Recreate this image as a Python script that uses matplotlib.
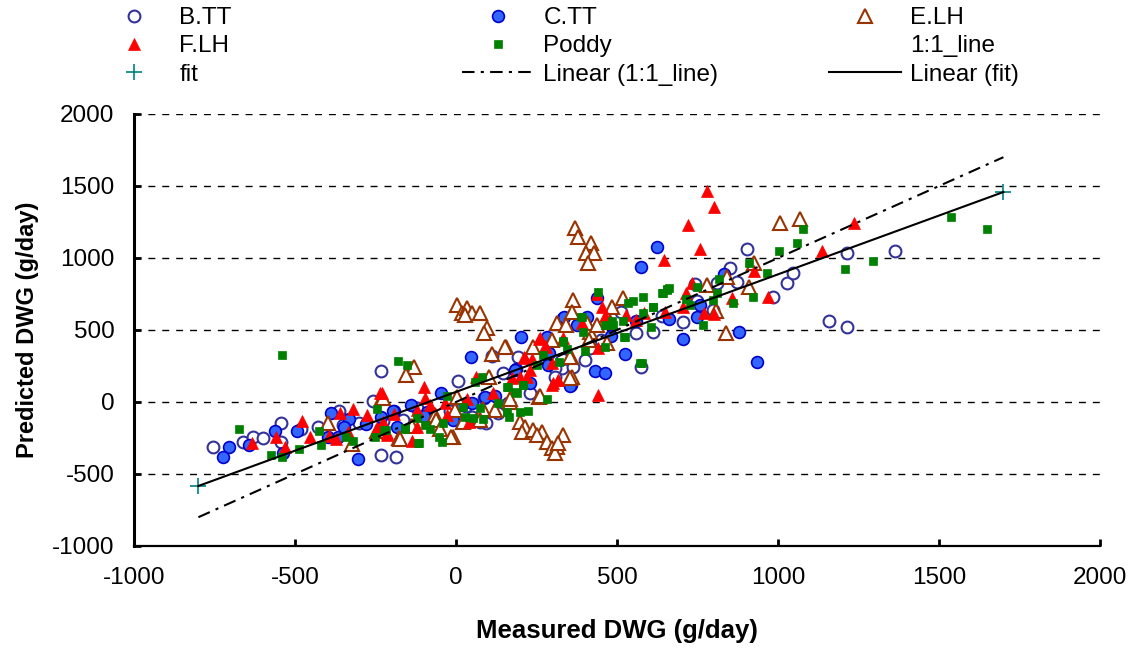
import matplotlib
matplotlib.use('Agg')
import matplotlib.pyplot as plt

plt.rcParams['font.family'] = ['Liberation Sans', 'DejaVu Sans']
plt.rcParams['axes.unicode_minus'] = False

# Measured vs predicted DWG (g/day)
btt_x = [-756, -662, -631, -545, -545, -428, -362, -350, -300, -259, -234, -234, -186, -226, -158,
         -164, 5, 111, 194, 147, 401, 575, 613, 511, 706, 742, 748, 797, 810, 851, 872, 903, 985,
         1027, 1046, 1157, 1213, 1213, 1363, 87, 49, 75, 93, 131, 328, 307, 364, 307, 416,
         -480, -600, -80, -20, 30, 160, 230, 330, 450, 560, 640, -120]
btt_y = [-315, -275, -241, -144, -275, -171, -60, -160, -144, 9, 217, -368, -380, -130, -144,
         -125, 146, 319, 315, 204, 292, 245, 488, 627, 558, 819, 703, 639, 824, 933, 836, 1060, 727,
         824, 894, 562, 519, 1032, 1049, 25, -102, -137, -148, -79, 234, 234, 245, 176, 372,
         -190, -250, -120, -60, -30, -10, 60, 300, 430, 480, 600, -40]

ctt_x = [-706, -723, -642, -562, -538, -495, -389, -396, -365, -332, -348, -303, -234, -192, -141,
         -182, -48, 46, 201, 282, 333, 406, 375, 437, 525, 432, 463, 356, 623, 575, 660, 832, 748,
         704, 879, 934, 758, -91, -195, -10, 49, 90, 186, 290, 287, 354, 183, 336,
         -280, -100, 20, 120, 230, 480, 560]
ctt_y = [-315, -380, -299, -201, -352, -201, -79, -245, -245, -120, -176, -398, -102, -60, -21,
         -176, 65, 315, 454, 454, 581, 588, 535, 720, 333, 218, 204, 118, 1079, 935, 574, 889, 592,
         435, 488, 280, 674, -67, -60, -125, -9, 37, 227, 338, 257, 111, 222, 592,
         -150, -100, -20, 40, 130, 460, 560]

elh_x = [-396, -324, -231, -244, -176, -130, -156, -10, -68, 370, 380, 419, 404, 428, 411, 2, 18,
         35, 49, 75, 28, 97, 87, 111, 155, 240, 297, 313, 341, 364, 359, 416, 483, 520, 356, 359,
         259, 199, 214, 204, 240, 266, 251, 282, 297, 313, 307, 333, 318, 1006, 1068, 925, 911,
         843, 781, 807, 839, 470, 4, 103, 121, 83, 168, -228, -65, -138, -62, -3, 75, 23, -14,
         -50, -174, 152, 354, 354, 261, 168, 406, 437, 414, 478, -226]
elh_y = [-148, -292, 30, -204, -252, 245, 187, -241, -102, 1206, 1148, 1106, 1032, 1032, 963, 674,
         616, 650, 616, 616, 604, 512, 477, 330, 384, 384, 431, 546, 535, 708, 627, 488, 662, 720,
         315, 176, 37, -137, -171, -206, -194, -206, -229, -276, -322, -310, -356, -229, -287,
         1245, 1268, 967, 796, 866, 812, 634, 481, 407, 37, 176, -56, -51, 2, 25, -90, -167, -125,
         -56, -125, -137, -245, -190, -259, 384, 315, 164, 42, 19, 546, 535, 431, 558, -198]

flh_x = [-635, -560, -531, -479, -453, -394, -360, -373, -319, -336, -275, -236, -193, -244, -215,
         -99, -138, -34, 211, 261, 280, 645, 390, 437, 452, 528, 440, 302, 318, 442, 649, 585, 781,
         801, 720, 758, 1236, 1136, 925, 968, 856, 732, 714, 706, 801, 770, 559, 35, 62, 116, 173,
         219, 230, -231, -96, -122, -81, -29, 41, -226, -215, 259, 276, 214, 235, 333, 297, 316,
         297, 199, 463, -122]
flh_y = [-282, -241, -310, -130, -245, -236, -74, -256, -51, -206, -90, 65, -83, -183, -229,
         106, -268, -9, 315, 442, 384, 986, 546, 750, 662, 604, 372, 130, 153, 49, 627, 616, 1468,
         1356, 1229, 1063, 1245, 1051, 912, 731, 720, 829, 759, 662, 611, 620, 569, 19, 176, 60,
         164, 176, 222, 60, 25, -56, -21, -90, -137, -137, -217, 435, 389, 303, 296, 442, 268, 153,
         118, 176, 597, -171]

poddy_x = [-540, -675, -575, -541, -488, -424, -420, -321, -342, -246, -224, -252, -179, -153,
           -158, -117, -29, 331, 388, 393, 442, 483, 535, 549, 580, 518, 282, 577, 611, 605, 644,
           656, 1536, 1648, 1294, 1077, 1058, 1003, 1208, 910, 965, 921, 859, 817, 748, 810, 714,
           727, 799, 766, 654, 660, 639, 611, 522, 463, 463, 582, 59, 80, 131, 75, 163, 188, 157,
           165, 199, 225, 209, -217, -158, -120, -96, -81, -39, 23, 28, 52, 85, -52, -44, -114,
           333, 271, 321, 344, 157, 207, 183, 251, 390, 401, 489, 525, 571]
poddy_y = [325, -190, -368, -384, -329, -201, -299, -269, -245, -51, -194, -245, 287, 257,
           -190, -287, 42, 426, 588, 488, 766, 565, 685, 703, 727, 565, 21, 269, 657, 519, 755,
           783, 1282, 1199, 979, 1199, 1102, 1046, 921, 963, 894, 727, 685, 852, 801, 755, 713,
           674, 708, 535, 778, 790, 755, 662, 454, 535, 384, 616, 141, 176, -5, -44, 106, 65, -67,
           -102, -72, -63, 118, -194, -183, -113, -160, -190, -148, -37, -102, -113, -120, -245,
           -276, -287, 419, 326, 280, 366, 102, 118, 72, 257, 592, 356, 535, 454, 269]

# end points of the two reference series
line_x = [-800, 1700]
line_y = [-800, 1700]
fit_x = [-800, 1700]
fit_y = [-583, 1458]

x_ticks = [-1000, -500, 0, 500, 1000, 1500, 2000]
y_ticks = [-1000, -500, 0, 500, 1000, 1500, 2000]


def main():
    fig = plt.figure(figsize=(11.36, 6.48), dpi=100)
    ax = fig.add_axes([134 / 1136, 1 - 546 / 648, 966 / 1136, 432 / 648])

    # horizontal dashed grid
    for yv in y_ticks[1:]:
        ax.axhline(yv, color='black', lw=1.0, dashes=(5, 5), zorder=0)

    h_btt, = ax.plot(btt_x, btt_y, ls='none', marker='o', ms=8.5, mfc='white',
                     mec='#333399', mew=1.5, label='B.TT')
    h_ctt, = ax.plot(ctt_x, ctt_y, ls='none', marker='o', ms=8.5, mfc='#3366FF',
                     mec='#0000CC', mew=1.2, label='C.TT')
    h_elh, = ax.plot(elh_x, elh_y, ls='none', marker='^', ms=10.5, mfc='white',
                     mec='#993300', mew=1.5, label='E.LH')
    h_flh, = ax.plot(flh_x, flh_y, ls='none', marker='^', ms=8, mfc='#FF0000',
                     mec='#FF0000', mew=0.5, label='F.LH')
    h_pod, = ax.plot(poddy_x, poddy_y, ls='none', marker='s', ms=6, mfc='#008000',
                     mec='#008000', mew=0.5, label='Poddy')

    h_11, = ax.plot(line_x, line_y, ls='none', marker='none', label='1:1_line')
    h_fit, = ax.plot(fit_x, fit_y, ls='none', marker='+', ms=11, mew=1.2, color='#008080',
                     label='fit')
    h_lin11, = ax.plot(line_x, line_y, color='black', lw=1.5, dashes=(6, 3, 1.5, 3),
                       label='Linear (1:1_line)')
    h_linfit, = ax.plot(fit_x, fit_y, color='black', lw=1.5, label='Linear (fit)')

    ax.set_xlim(-1000, 2000)
    ax.set_ylim(-1000, 2000)
    ax.set_xticks(x_ticks)
    ax.set_yticks(y_ticks)
    ax.tick_params(direction='in', length=5, width=2, labelsize=17.5)
    ax.tick_params(axis='x', pad=15)
    ax.tick_params(axis='y', pad=14)

    for side in ['top', 'right']:
        ax.spines[side].set_visible(False)
    ax.spines['left'].set_linewidth(2.2)
    ax.spines['bottom'].set_linewidth(1.6)

    ax.set_xlabel('Measured DWG (g/day)', fontsize=18.5, fontweight='bold')
    ax.set_ylabel('Predicted DWG (g/day)', fontsize=17, fontweight='bold')
    ax.xaxis.set_label_coords(0.5, -0.17)
    ax.yaxis.set_label_coords(-0.098, 0.5)

    # legend as three columns placed independently
    cols = [
        ([h_btt, h_flh, h_fit], 98),
        ([h_ctt, h_pod, h_lin11], 462),
        ([h_elh, h_11, h_linfit], 829),
    ]
    for handles, x0 in cols:
        fig.legend(handles=handles, labels=[h.get_label() for h in handles],
                   loc='upper left', bbox_to_anchor=(x0 / 1136, 1 - 7 / 648),
                   frameon=False, fontsize=17.5, handlelength=2.95, handletextpad=0.4,
                   borderpad=0, borderaxespad=0, labelspacing=0.26, numpoints=1)

    fig.savefig('out.png', dpi=100)


if __name__ == "__main__":
    main()
